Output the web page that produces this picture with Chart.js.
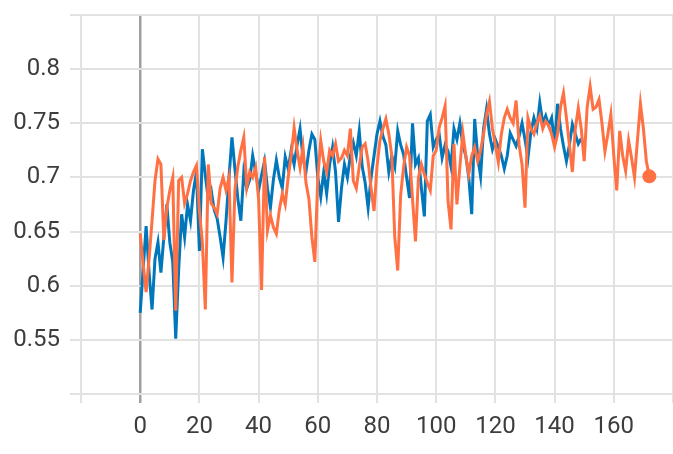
<!DOCTYPE html>
<html>
<head>
<meta charset="utf-8">
<script src="https://cdn.jsdelivr.net/npm/chart.js@4"></script>
<style>
  html, body { margin: 0; padding: 0; background: #fff; overflow: hidden; }
  canvas { display: block; }
</style>
</head>
<body>
<canvas id="accuracyChart" width="673" height="454"></canvas>
<script>
// blue run, one value per step (0..149)
blue_values = [
  0.575, 0.615, 0.655, 0.612, 0.578, 0.625, 0.64, 0.612, 0.645, 0.675,
  0.64, 0.622, 0.551, 0.615, 0.666, 0.645, 0.675, 0.66, 0.688, 0.705,
  0.632, 0.726, 0.702, 0.68, 0.688, 0.67, 0.662, 0.645, 0.626, 0.66,
  0.7, 0.737, 0.708, 0.68, 0.66, 0.705, 0.69, 0.698, 0.72, 0.705,
  0.688, 0.702, 0.715, 0.69, 0.672, 0.698, 0.716, 0.7, 0.69, 0.719,
  0.708, 0.725, 0.712, 0.73, 0.745, 0.718, 0.705, 0.725, 0.74, 0.735,
  0.7, 0.682, 0.705, 0.685, 0.712, 0.728, 0.705, 0.659, 0.69, 0.712,
  0.7, 0.72, 0.732, 0.72, 0.743, 0.71, 0.695, 0.672, 0.7, 0.72,
  0.74, 0.752, 0.738, 0.73, 0.705, 0.72, 0.71, 0.743, 0.73, 0.721,
  0.7, 0.681, 0.75, 0.712, 0.718, 0.69, 0.664, 0.752, 0.758, 0.728,
  0.735, 0.74, 0.718, 0.73, 0.724, 0.71, 0.745, 0.735, 0.75, 0.73,
  0.72, 0.7, 0.666, 0.754, 0.72, 0.701, 0.745, 0.763, 0.74, 0.726,
  0.735, 0.728, 0.72, 0.708, 0.72, 0.741, 0.735, 0.729, 0.738, 0.75,
  0.735, 0.718, 0.742, 0.755, 0.745, 0.769, 0.75, 0.757, 0.748, 0.755,
  0.731, 0.768, 0.745, 0.729, 0.715, 0.73, 0.749, 0.74, 0.731, 0.736
]

// orange run, one value per step (0..172)
orange_values = [
  0.648, 0.62, 0.594, 0.625, 0.66, 0.697, 0.717, 0.712, 0.642, 0.672,
  0.688, 0.7, 0.577, 0.697, 0.7, 0.676, 0.685, 0.697, 0.705, 0.711,
  0.669, 0.64, 0.578, 0.712, 0.676, 0.672, 0.666, 0.69, 0.7, 0.688,
  0.7, 0.603, 0.688, 0.71, 0.725, 0.737, 0.691, 0.705, 0.7, 0.709,
  0.68, 0.596, 0.719, 0.651, 0.665, 0.654, 0.648, 0.67, 0.685, 0.675,
  0.7, 0.72, 0.746, 0.725, 0.709, 0.728, 0.695, 0.68, 0.645, 0.622,
  0.7, 0.734, 0.715, 0.705, 0.725, 0.72, 0.731, 0.715, 0.718, 0.725,
  0.72, 0.745, 0.697, 0.69, 0.71, 0.728, 0.731, 0.715, 0.69, 0.669,
  0.71, 0.734, 0.745, 0.754, 0.74, 0.72, 0.645, 0.614, 0.684, 0.71,
  0.728, 0.72, 0.68, 0.641, 0.7, 0.712, 0.703, 0.695, 0.688, 0.72,
  0.725, 0.746, 0.755, 0.766, 0.678, 0.652, 0.731, 0.675, 0.71, 0.741,
  0.72, 0.703, 0.72, 0.728, 0.715, 0.725, 0.74, 0.758, 0.77, 0.745,
  0.73, 0.714, 0.74, 0.755, 0.763, 0.755, 0.75, 0.771, 0.73, 0.712,
  0.672, 0.755, 0.745, 0.74, 0.75, 0.757, 0.745, 0.752, 0.748, 0.74,
  0.728, 0.74, 0.765, 0.778, 0.755, 0.73, 0.705, 0.745, 0.764, 0.745,
  0.715, 0.765, 0.784, 0.763, 0.765, 0.772, 0.75, 0.724, 0.74, 0.758,
  0.72, 0.688, 0.743, 0.72, 0.706, 0.734, 0.718, 0.7, 0.735, 0.768,
  0.745, 0.715, 0.701
]

x_min = -20
x_max = 180
y_min = 0.5
y_max = 0.85

blue_points = []
blue_values.forEach(function(v, step){
  blue_points.push({x: step, y: v})
});
orange_points = []
orange_values.forEach(function(v, step){
  orange_points.push({x: step, y: v})
});

const labelFont = {family: 'Roboto, Arial, sans-serif', size: 24}
const labelColor = '#3d3d3d'

const accuracyCanvas = document.getElementById('accuracyChart');
new Chart(
  accuracyCanvas,
  {
    type: 'line',
    data: {
      datasets: [
        {
          label: 'orange',
          data: orange_points,
          borderColor: '#ff7043',
          backgroundColor: '#ff7043',
          borderWidth: 3,
          fill: false,
          tension: 0,
          pointRadius: function(ctx) {
            return ctx.dataIndex === orange_points.length - 1 ? 7 : 0
          },
          pointBorderWidth: 0,
          pointHoverRadius: 0
        },
        {
          label: 'blue',
          data: blue_points,
          borderColor: '#0077bb',
          backgroundColor: '#0077bb',
          borderWidth: 3,
          fill: false,
          tension: 0,
          pointRadius: 0,
          pointHoverRadius: 0
        },
      ]
    },
    options: {
      responsive: false,
      maintainAspectRatio: false,
      animation: false,
      layout: {
        autoPadding: false,
        padding: {top: 15, right: 0, left: 0, bottom: 0}
      },
      plugins: {
        legend: {display: false},
        tooltip: {enabled: false},
        title: {display: false}
      },
      scales: {
        x: {
          type: 'linear',
          min: x_min,
          max: x_max,
          afterFit: function(scale) {
            scale.height = 60
            scale.paddingLeft = 0
            scale.paddingRight = 0
          },
          border: {color: '#e2e2e2', width: 2},
          grid: {
            color: function(ctx) {
              return ctx.tick && ctx.tick.value === 0 ? '#a0a0a0' : '#e2e2e2'
            },
            lineWidth: function(ctx) {
              return ctx.tick && ctx.tick.value === 0 ? 2.5 : 2
            },
            tickLength: 9
          },
          ticks: {
            stepSize: 20,
            font: labelFont,
            color: labelColor,
            padding: 10,
            maxRotation: 0,
            autoSkip: false,
            callback: function(v) {
              if (v < 0 || v > 160) return ''
              return String(v)
            }
          }
        },
        y: {
          min: y_min,
          max: y_max,
          afterFit: function(scale) {
            scale.width = 81
            scale.paddingTop = 0
            scale.paddingBottom = 0
          },
          border: {color: '#e2e2e2', width: 2},
          grid: {
            color: '#e2e2e2',
            lineWidth: 2,
            tickLength: 11
          },
          ticks: {
            stepSize: 0.05,
            font: labelFont,
            color: labelColor,
            padding: 10,
            callback: function(v) {
              const r = Math.round(v * 100) / 100
              if (r < 0.54 || r > 0.81) return ''
              return String(r)
            }
          }
        }
      }
    },
  }
);
</script>
</body>
</html>
